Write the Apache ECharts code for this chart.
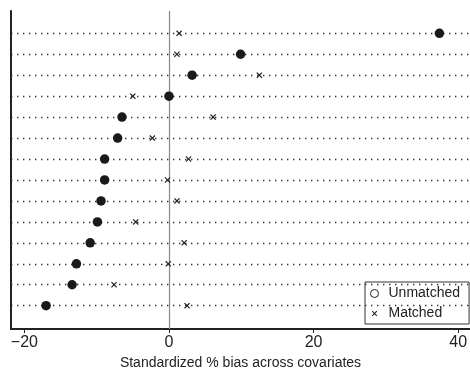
<!DOCTYPE html>
<html>
<head>
<meta charset="utf-8">
<script src="https://cdn.jsdelivr.net/npm/echarts@6/dist/echarts.min.js"></script>
<style>
html,body{margin:0;padding:0;background:#fff;}
#chart{width:470px;height:368px;}
</style>
</head>
<body>
<div id="chart"></div>
<script>
// Covariates listed top to bottom (sorted by unmatched bias)
const unmatched = [37.4, 9.9, 3.2, 0.0, -6.5, -7.1, -8.9, -8.9, -9.4, -9.9, -10.9, -12.8, -13.4, -17.0];
const matched   = [1.4, 1.1, 12.5, -5.0, 6.1, -2.3, 2.7, -0.2, 1.1, -4.6, 2.1, -0.1, -7.6, 2.5];
const xTicks = [-20, 0, 20, 40];
const seriesNames = ['Unmatched', 'Matched'];
const xTitle = 'Standardized % bias across covariates';

const n = unmatched.length;
const rowPos = unmatched.map((_, i) => n - i);
const font = 'Liberation Sans, Arial, Helvetica, sans-serif';
const xShape = 'M0,1.4L1.4,0L5,3.6L8.6,0L10,1.4L6.4,5L10,8.6L8.6,10L5,6.4L1.4,10L0,8.6L3.6,5Z';
const crossPath = 'path://' + xShape;
const crossLegendPath = 'path://M-2.5,-2.5M12.5,12.5' + xShape;

const chart = echarts.init(document.getElementById('chart'), null, {renderer: 'canvas'});
chart.setOption({
  animation: false,
  backgroundColor: '#fff',
  grid: {left: 11, right: 0, top: 11, bottom: 39, containLabel: false, outerBoundsMode: 'none'},
  xAxis: {
    type: 'value',
    min: -21.85,
    max: 41.63,
    axisLine: {show: true, onZero: false, lineStyle: {color: '#222', width: 2}},
    axisTick: {show: true, length: 4, customValues: xTicks, lineStyle: {color: '#222', width: 1}},
    axisLabel: {
      customValues: xTicks, margin: 6, color: '#222', fontSize: 16, fontFamily: font,
      formatter: v => (v < 0 ? '\u2212' + Math.abs(v) : String(v))
    },
    splitLine: {show: false},
    name: xTitle,
    nameLocation: 'middle',
    nameGap: 20,
    nameTextStyle: {color: '#222', fontSize: 14, fontFamily: font, verticalAlign: 'top'}
  },
  yAxis: {
    type: 'value',
    min: -0.112,
    max: 15.064,
    axisLine: {show: true, onZero: false, lineStyle: {color: '#222', width: 2}},
    axisTick: {show: false},
    axisLabel: {show: false},
    splitLine: {show: false}
  },
  legend: {
    orient: 'vertical',
    left: 365,
    top: 282,
    padding: [4, 9, 3, 5],
    itemGap: 5,
    itemWidth: 18,
    itemHeight: 8,
    borderColor: '#333',
    borderWidth: 1,
    backgroundColor: '#fff',
    textStyle: {color: '#222', fontSize: 14, fontFamily: font, lineHeight: 15},
    data: [
      {name: seriesNames[0], icon: 'circle', itemStyle: {color: '#fff', borderColor: '#222', borderWidth: 1}},
      {name: seriesNames[1], icon: crossLegendPath, itemStyle: {color: '#222', borderWidth: 0}}
    ]
  },
  series: [
    {
      name: '__grid',
      type: 'scatter',
      data: [],
      silent: true,
      markLine: {
        silent: true,
        symbol: 'none',
        label: {show: false},
        lineStyle: {color: '#333', width: 1.4, type: [1.4, 4.6]},
        data: rowPos.map(r => ({yAxis: r}))
      }
    },
    {
      name: '__zero',
      type: 'scatter',
      data: [],
      silent: true,
      markLine: {
        silent: true,
        symbol: 'none',
        label: {show: false},
        lineStyle: {color: '#888', width: 1.2, type: 'solid'},
        data: [{xAxis: 0}]
      }
    },
    {
      name: seriesNames[0],
      type: 'scatter',
      symbol: 'circle',
      symbolSize: 9.5,
      itemStyle: {color: '#1a1a1a', opacity: 1},
      data: unmatched.map((v, i) => [v, rowPos[i]]),
      z: 5
    },
    {
      name: seriesNames[1],
      type: 'scatter',
      symbol: crossPath,
      symbolSize: 6,
      itemStyle: {color: '#222', opacity: 1},
      data: matched.map((v, i) => [v, rowPos[i]]),
      z: 5
    }
  ]
});
</script>
</body>
</html>
